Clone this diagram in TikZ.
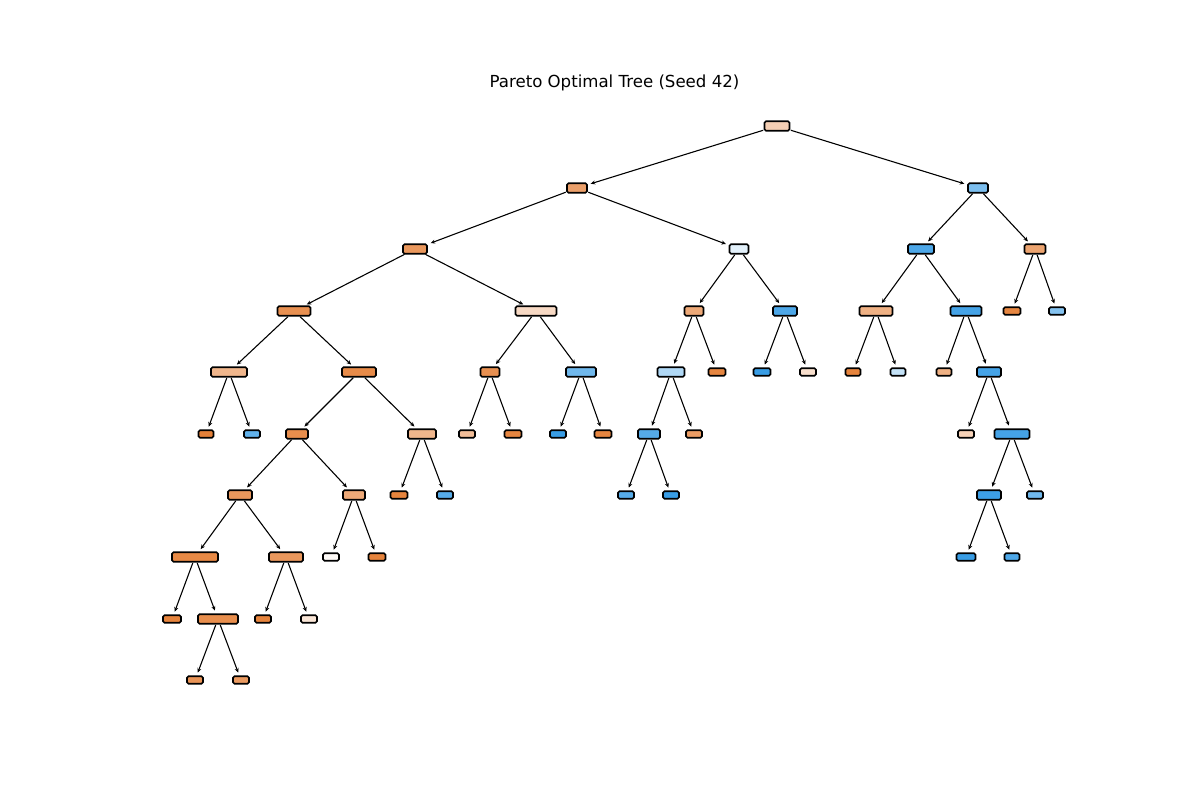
\documentclass[tikz,border=0pt]{standalone}
\usepackage{fontspec}
\setmainfont{DejaVu Sans}
\usetikzlibrary{arrows.meta}
\definecolor{or}{RGB}{229,129,57}
\definecolor{bl}{RGB}{57,157,229}
\tikzset{
  tn/.style={draw=black, line width=0.9pt, rounded corners=0.9pt, inner sep=0pt,
             outer sep=0pt, minimum height=0.19cm},
  lf/.style={tn, minimum height=0.15cm},
  bw/.style={minimum width={#1*0.02cm}},
  edge/.style={line width=0.62pt, -{Stealth[length=2.6pt,width=2.3pt]},
               shorten <=0.8pt, shorten >=2.2pt},
}
\begin{document}
\begin{tikzpicture}[x=0.02cm, y=-0.02cm]
\useasboundingbox (0,0) rectangle (1200,800);
\node[font=\fontsize{9.45}{11}\selectfont] (title) at (614.5,82.5) {Pareto Optimal Tree (Seed 42)};

% root and the left subtree
\node[tn, bw=25, fill=or!38] (t) at (777,126) {};
\node[tn, bw=20, fill=or!75] (tL) at (577,188) {};
\node[tn, bw=24, fill=or!82] (tLL) at (415,249) {};
\node[tn, bw=33, fill=or!88] (tLLL) at (294,311) {};
\node[tn, bw=36, fill=or!58] (tLLLL) at (229,372) {};
\node[lf, bw=15, fill=or] (tLLLLL) at (206,434) {};
\node[lf, bw=16, fill=bl!80] (tLLLLR) at (252,434) {};
\node[tn, bw=34, fill=or!92] (tLLLR) at (359,372) {};
\node[tn, bw=22, fill=or!90] (tLLLRL) at (297,434) {};
\node[tn, bw=24, fill=or!82] (tLLLRLL) at (240,495) {};
\node[tn, bw=46, fill=or!94] (tLLLRLLL) at (195,557) {};
\node[lf, bw=18, fill=or!98] (tLLLRLLLL) at (172,619) {};
\node[tn, bw=40, fill=or!90] (tLLLRLLLR) at (218,619) {};
\node[lf, bw=16, fill=or!85] (tLLLRLLLRL) at (195,680) {};
\node[lf, bw=16, fill=or!80] (tLLLRLLLRR) at (241,680) {};
\node[tn, bw=34, fill=or!82] (tLLLRLLR) at (286,557) {};
\node[lf, bw=16, fill=or!98] (tLLLRLLRL) at (263,619) {};
\node[lf, bw=16, fill=or!20] (tLLLRLLRR) at (309,619) {};
\node[tn, bw=22, fill=or!68] (tLLLRLR) at (354,495) {};
\node[lf, bw=16, fill=or!4] (tLLLRLRL) at (331,557) {};
\node[lf, bw=17, fill=or!98] (tLLLRLRR) at (377,557) {};
\node[tn, bw=28, fill=or!58] (tLLLRR) at (422,434) {};
\node[lf, bw=17, fill=or!98] (tLLLRRL) at (399,495) {};
\node[lf, bw=16, fill=bl!85] (tLLLRRR) at (445,495) {};
\node[tn, bw=41, fill=or!30] (tLLR) at (536,311) {};
\node[tn, bw=19, fill=or!88] (tLLRL) at (490,372) {};
\node[lf, bw=16, fill=or!52] (tLLRLL) at (467,434) {};
\node[lf, bw=17, fill=or!96] (tLLRLR) at (513,434) {};
\node[tn, bw=30, fill=bl!72] (tLLRR) at (581,372) {};
\node[lf, bw=16, fill=bl!100] (tLLRRL) at (558,434) {};
\node[lf, bw=17, fill=or!96] (tLLRRR) at (603,434) {};
\node[tn, bw=19, fill=bl!14] (tLR) at (739,249) {};
\node[tn, bw=19, fill=or!68] (tLRL) at (694,311) {};
\node[tn, bw=27, fill=bl!40] (tLRLL) at (671,372) {};
\node[tn, bw=22, fill=bl!86] (tLRLLL) at (649,434) {};
\node[lf, bw=16, fill=bl!85] (tLRLLLL) at (626,495) {};
\node[lf, bw=16, fill=bl!100] (tLRLLLR) at (671,495) {};
\node[lf, bw=16, fill=or!78] (tLRLLR) at (694,434) {};
\node[lf, bw=17, fill=or!96] (tLRLR) at (717,372) {};
\node[tn, bw=24, fill=bl!90] (tLRR) at (785,311) {};
\node[lf, bw=17, fill=bl!100] (tLRRL) at (762,372) {};
\node[lf, bw=16, fill=or!25] (tLRRR) at (808,372) {};

% right subtree
\node[tn, bw=20, fill=bl!66] (tR) at (978,188) {};
\node[tn, bw=26, fill=bl!90] (tRL) at (921,249) {};
\node[tn, bw=33, fill=or!62] (tRLL) at (876,311) {};
\node[lf, bw=15, fill=or!98] (tRLLL) at (853,372) {};
\node[lf, bw=15, fill=bl!30] (tRLLR) at (898,372) {};
\node[tn, bw=31, fill=bl!94] (tRLR) at (966,311) {};
\node[lf, bw=15, fill=or!62] (tRLRL) at (944,372) {};
\node[tn, bw=24, fill=bl!94] (tRLRR) at (989,372) {};
\node[lf, bw=16, fill=or!36] (tRLRRL) at (966,434) {};
\node[tn, bw=35, fill=bl!94] (tRLRRR) at (1012,434) {};
\node[tn, bw=24, fill=bl!98] (tRLRRRL) at (989,495) {};
\node[lf, bw=19, fill=bl!100] (tRLRRRLL) at (966,557) {};
\node[lf, bw=15, fill=bl!90] (tRLRRRLR) at (1012,557) {};
\node[lf, bw=16, fill=bl!72] (tRLRRRR) at (1035,495) {};
\node[tn, bw=21, fill=or!72] (tRR) at (1035,249) {};
\node[lf, bw=17, fill=or!96] (tRRL) at (1012,311) {};
\node[lf, bw=16, fill=bl!62] (tRRR) at (1057,311) {};

% connectors: every split feeds its two children
\foreach \p in {t,tL,tLL,tLLL,tLLLL,tLLLR,tLLLRL,tLLLRLL,tLLLRLLL,tLLLRLLLR,
                tLLLRLLR,tLLLRLR,tLLLRR,tLLR,tLLRL,tLLRR,tLR,tLRL,tLRLL,
                tLRLLL,tLRR,tR,tRL,tRLL,tRLR,tRLRR,tRLRRR,tRLRRRL,tRR}{
  \draw[edge] (\p) -- (\p L);
  \draw[edge] (\p) -- (\p R);
}
\end{tikzpicture}
\end{document}
